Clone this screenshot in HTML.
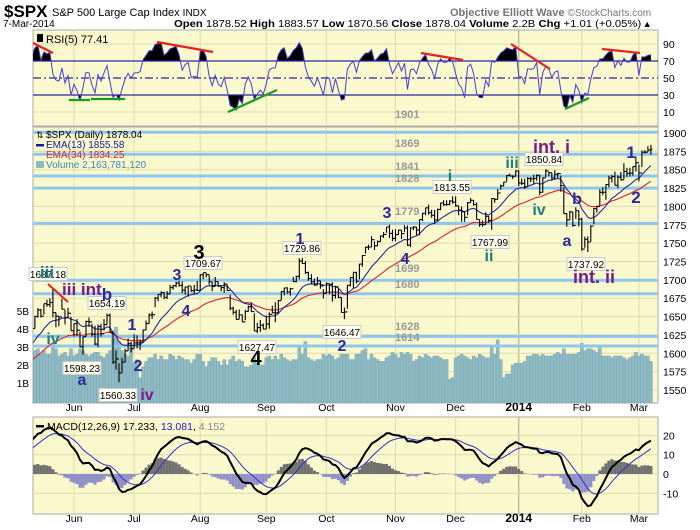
<!DOCTYPE html>
<html><head><meta charset="utf-8"><style>
html,body{margin:0;padding:0;background:#fff;}
svg{display:block;font-family:"Liberation Sans",sans-serif;}
</style></head><body>
<svg id="chart" width="700" height="530" viewBox="0 0 700 530">
<g id="hdr">
<text x="4" y="17" font-size="17" font-weight="bold" fill="#000">$SPX</text>
<text x="52" y="16" font-size="11" fill="#000">S&amp;P 500 Large Cap Index <tspan font-size="10">INDX</tspan></text>
<text x="450" y="16" font-size="11" font-weight="bold" fill="#777">Objective Elliott Wave <tspan font-weight="normal" font-size="10">©StockCharts.com</tspan></text>
<text x="3" y="27" font-size="10" fill="#000">7-Mar-2014</text>
<text x="174" y="27" font-size="10" fill="#000" textLength="476" lengthAdjust="spacingAndGlyphs"><tspan font-weight="bold">Open</tspan> 1878.52 <tspan font-weight="bold">High</tspan> 1883.57 <tspan font-weight="bold">Low</tspan> 1870.56 <tspan font-weight="bold">Close</tspan> 1878.04 <tspan font-weight="bold">Volume</tspan> 2.2B <tspan font-weight="bold">Chg</tspan> +1.01 (+0.05%) ▴</text>
</g>
<g id="layer"></g>
</svg>
<script>
const warmClose=[1560.7,1552.1,1548.3,1558.7,1545.8,1556.9,1551.7,1563.8,1562.9,1569.2,1562.2,1570.3,1553.7,1560.0,1553.3,1563.1,1568.6,1587.7,1593.4,1588.9,1552.4,1574.6,1552.0,1541.6,1555.3,1562.5,1578.8,1578.8,1585.2,1582.2,1593.6,1597.6,1582.7,1597.6,1614.4,1617.5,1626.0,1632.7,1626.7,1633.7];
const closes=[1633.8,1650.3,1658.8,1650.5,1667.5,1666.3,1669.2,1655.4,1650.5,1649.6,1660.1,1648.4,1654.4,1630.7,
1640.4,1631.4,1608.9,1622.6,1643.4,1642.8,1626.1,1612.5,1636.4,1626.7,1639.0,1651.8,1628.9,1588.2,1592.4,1573.1,1588.0,1603.3,1613.2,1606.3,
1614.1,1614.1,1615.4,1631.9,1640.5,1652.3,1652.6,1675.0,1680.2,1682.5,1676.3,1680.9,1689.4,1692.1,1695.5,1692.4,1685.9,1690.3,1691.7,1685.3,1686.0,1685.7,
1706.9,1709.7,1707.1,1697.4,1690.9,1697.5,1691.4,1689.5,1694.2,1685.4,1661.3,1655.8,1646.1,1652.4,1642.8,1657.0,1663.5,1656.8,1630.5,1635.0,1638.2,1633.0,
1639.8,1653.1,1655.1,1655.2,1671.7,1684.0,1689.1,1683.4,1688.0,1697.6,1704.8,1725.5,1722.3,1709.9,1701.8,1697.4,1692.8,1698.7,1691.8,1681.6,
1695.0,1693.9,1678.7,1690.5,1676.1,1655.5,1656.4,1692.6,1703.2,1710.1,1698.1,1721.5,1733.2,1744.5,1744.7,1754.7,1746.4,1752.1,1759.8,1762.1,1772.0,1763.3,1756.5,
1761.6,1767.9,1763.0,1770.5,1747.2,1770.6,1771.9,1767.7,1782.0,1790.6,1798.2,1791.5,1787.9,1781.4,1795.9,1804.8,1802.5,1802.8,1807.2,1805.8,
1800.9,1795.2,1792.8,1785.0,1805.1,1808.4,1802.6,1782.2,1775.5,1775.3,1786.5,1781.0,1810.6,1809.6,1818.3,1828.0,1833.3,1842.0,1841.4,1841.1,1848.4,
1832.0,1831.4,1826.8,1837.9,1837.5,1838.1,1842.4,1819.2,1838.9,1848.4,1845.9,1838.7,1843.8,1844.9,1828.5,1790.3,1781.6,1792.5,1774.2,1794.2,1782.6,
1741.9,1755.2,1751.6,1773.4,1797.0,1799.8,1819.3,1819.3,1829.8,1838.6,1840.8,1828.8,1839.8,1836.3,1847.6,1845.1,1845.2,1854.3,1859.5,
1845.7,1873.9,1873.8,1877.0,1878.0];
const highs=[1636.0,1651.1,1661.5,1660.5,1667.5,1672.8,1674.9,1687.2,1655.4,1649.8,1674.2,1659.0,1661.9,1649.4,
1640.4,1646.5,1629.3,1622.6,1644.4,1648.7,1640.1,1637.7,1639.3,1640.4,1646.5,1654.2,1654.2,1628.9,1604.0,1586.5,1593.8,1606.2,1620.1,1615.9,
1626.0,1624.3,1618.9,1632.1,1644.7,1654.2,1656.9,1676.6,1680.2,1684.5,1683.7,1684.8,1693.1,1693.0,1697.6,1698.8,1697.8,1690.9,1691.9,1690.9,1693.2,1698.4,
1707.9,1709.7,1709.2,1706.9,1697.4,1703.9,1697.5,1690.9,1696.8,1693.8,1679.6,1663.6,1659.1,1659.6,1652.5,1659.4,1664.9,1669.5,1654.4,1641.2,1645.3,1640.6,
1651.4,1655.7,1664.7,1669.5,1672.4,1684.1,1689.1,1689.9,1689.0,1704.0,1705.5,1729.4,1729.9,1725.5,1711.2,1707.6,1701.7,1703.9,1698.7,1687.3,
1696.6,1693.9,1696.6,1691.9,1687.7,1676.1,1662.4,1692.6,1703.4,1711.0,1711.0,1721.8,1733.5,1745.3,1747.8,1759.3,1752.7,1753.7,1759.8,1765.0,1772.0,1775.2,1768.5,
1768.8,1768.0,1767.7,1774.5,1774.0,1771.8,1773.4,1772.3,1782.0,1791.5,1798.2,1802.3,1795.5,1795.3,1797.0,1804.8,1808.4,1808.4,1808.4,1813.6,
1813.5,1800.9,1799.8,1792.9,1806.0,1811.5,1808.4,1805.4,1782.2,1780.9,1792.2,1786.8,1811.4,1810.9,1823.8,1829.8,1833.3,1842.8,1844.9,1842.5,1849.4,
1849.4,1838.0,1837.6,1840.1,1840.0,1843.2,1843.8,1843.5,1839.3,1850.8,1847.0,1846.2,1849.3,1845.9,1842.0,1826.7,1790.9,1793.9,1792.5,1798.8,1793.9,
1784.8,1758.7,1759.4,1774.1,1798.0,1801.0,1823.5,1826.2,1830.1,1841.7,1842.9,1847.5,1842.1,1846.9,1858.7,1852.7,1852.6,1854.5,1867.9,
1857.0,1876.2,1876.5,1881.9,1883.6];
const lows=[1623.7,1633.8,1648.6,1648.6,1652.5,1663.3,1662.7,1648.9,1635.5,1636.6,1660.1,1639.4,1648.6,1630.7,
1622.7,1623.6,1608.1,1598.2,1622.7,1636.0,1622.7,1610.9,1608.1,1622.7,1630.9,1639.0,1628.9,1585.4,1577.7,1560.3,1573.1,1588.0,1603.3,1601.1,
1606.8,1606.7,1604.6,1614.7,1631.9,1640.5,1646.7,1662.6,1670.9,1676.3,1673.7,1674.0,1680.9,1686.8,1690.0,1690.6,1681.9,1679.9,1676.9,1683.6,1680.7,1684.8,
1685.7,1700.7,1703.3,1693.3,1684.6,1690.9,1690.3,1684.5,1682.2,1685.2,1658.6,1652.6,1646.1,1646.5,1642.8,1645.1,1656.9,1656.8,1630.5,1627.5,1629.1,1632.5,
1633.4,1633.4,1655.1,1642.2,1655.2,1672.4,1678.7,1681.0,1678.6,1697.6,1696.5,1700.7,1721.8,1708.0,1698.8,1694.6,1691.9,1693.1,1687.8,1674.9,
1681.6,1680.5,1670.4,1674.6,1675.1,1655.5,1646.5,1660.9,1691.1,1688.7,1695.5,1700.9,1717.8,1735.8,1740.6,1744.6,1740.6,1745.9,1752.2,1757.2,1764.1,1757.2,1752.7,
1752.7,1761.6,1755.6,1765.0,1746.2,1744.9,1767.8,1760.6,1760.6,1780.2,1787.9,1788.9,1784.7,1777.2,1780.9,1794.7,1800.6,1800.9,1801.5,1803.7,
1799.6,1787.9,1779.1,1779.1,1788.0,1805.1,1800.9,1782.2,1772.3,1772.3,1775.3,1777.6,1768.0,1804.9,1809.6,1822.6,1827.8,1834.4,1841.3,1837.4,1841.0,
1827.7,1829.1,1823.7,1828.7,1833.0,1830.8,1835.0,1815.5,1818.9,1840.0,1841.0,1835.2,1837.0,1839.0,1820.1,1790.3,1772.3,1781.5,1772.3,1783.0,1772.7,
1739.7,1743.8,1737.9,1752.2,1776.0,1791.8,1800.8,1815.2,1809.2,1825.9,1832.4,1828.6,1824.9,1835.2,1836.8,1840.2,1840.7,1841.9,1847.5,
1834.4,1853.8,1871.9,1874.0,1870.6];
const volumes=[2.9,2.8,2.9,2.6,2.8,2.6,2.6,3.2,2.9,2.5,2.6,2.7,2.5,2.9,
2.5,2.6,2.9,2.8,2.6,2.5,2.6,2.7,2.7,2.5,2.4,2.6,2.8,3.9,4.1,3.3,2.8,2.6,2.5,3.0,
2.1,2.3,1.3,1.9,2.2,2.4,2.4,2.6,2.3,2.5,2.3,2.3,2.6,2.5,2.3,2.5,2.4,2.3,2.3,2.1,2.3,2.6,
2.6,2.2,1.9,2.2,2.4,2.4,2.2,2.0,2.3,2.0,2.3,2.5,2.2,2.3,2.2,1.9,1.9,2.0,2.4,2.1,2.0,2.0,
2.4,2.5,2.3,2.5,2.3,2.6,2.4,2.3,2.2,2.3,2.3,3.1,2.6,3.3,2.4,2.3,2.2,2.3,2.3,2.6,
2.5,2.6,2.5,2.3,2.4,2.6,2.6,2.6,2.3,2.3,2.6,2.6,2.8,2.9,2.3,2.6,2.4,2.3,2.2,2.2,2.4,2.5,2.7,
2.6,2.4,2.7,2.6,2.7,2.6,2.2,2.3,2.5,2.4,2.6,2.5,2.4,2.5,2.5,2.4,2.3,2.3,1.2,1.3,
2.4,2.5,2.6,2.5,2.4,2.3,2.5,2.4,2.6,2.5,2.4,2.4,3.0,2.6,3.4,2.3,1.3,1.5,1.5,2.0,2.1,
2.1,2.1,2.2,2.5,2.5,2.6,2.6,2.5,2.6,2.5,2.5,2.5,2.6,2.7,2.6,2.9,2.6,2.6,2.6,2.6,2.7,
3.2,2.8,2.9,2.9,2.8,2.7,3.0,2.5,2.5,2.5,2.4,2.5,2.5,2.5,2.4,2.3,2.4,2.5,2.7,
2.5,2.6,2.5,2.5,2.2];
const monthLabels=['Jun','Jul','Aug','Sep','Oct','Nov','Dec','2014','Feb','Mar'];
const monthIdx=[14,34,56,78,98,121,141,162,183,202];
const priceTicks=[1900,1875,1850,1825,1800,1775,1750,1725,1700,1675,1650,1625,1600,1575,1550];
const volTicks=[5,4,3,2,1];
const rsiTicks=[90,70,50,30,10];
const macdTicks=[20,10,0,-10];
const levelValues=[1901,1871,1841.5,1825,1777,1699.5,1681,1623,1610];
const levelLabels=['1901','1869','1841','1828','1779','1699','1680','1628','1614'];

const NS='http://www.w3.org/2000/svg';
const layer=document.getElementById('layer');
function mk(tag,attrs,parent){const e=document.createElementNS(NS,tag);for(const k in attrs)e.setAttribute(k,attrs[k]);(parent||layer).appendChild(e);return e;}
const X0=33,X1=658;
const xi=i=>31.9+i*3.005;
const py=p=>133+(1900-p)*0.7343;
const vy=v=>401-18*v;
const ry=r=>120.5-r*0.85;
const my=m=>474-m*1.93;
const RSI_T=30,RSI_B=126,PR_T=127,PR_B=403,MA_T=417,MA_B=514;

const all=warmClose.concat(closes);const W=warmClose.length;
function ema(arr,n){const k=2/(n+1);const out=[];let e=arr[0];for(let i=0;i<arr.length;i++){e=i?arr[i]*k+e*(1-k):arr[0];out.push(e);}return out;}
const e13=ema(all,13).slice(W),e34=ema(all,34).slice(W);
const e12=ema(all,12),e26=ema(all,26);const macdAll=e12.map((v,i)=>v-e26[i]);const sigAll=ema(macdAll,9);
const macd=macdAll.slice(W),sig=sigAll.slice(W);
let ag=0,al=0;const rsiAll=[];for(let i=1;i<all.length;i++){const d=all[i]-all[i-1];const g=Math.max(d,0),l=Math.max(-d,0);if(i<=5){ag+=g/5;al+=l/5;}else{ag=(ag*4+g)/5;al=(al*4+l)/5;}rsiAll.push(al===0?100:100-100/(1+ag/al));}
const rsi=rsiAll.slice(W-1);

const BG='#faf8cd',GR='#dedcae';
for(const [t,b,nm] of [[RSI_T,RSI_B,'rsi-panel'],[PR_T,PR_B,'price-panel'],[MA_T,MA_B,'macd-panel']]){
 const r=mk('rect',{x:X0,y:t,width:X1-X0,height:b-t,fill:BG,stroke:'#aaa','stroke-width':1});
 
}
const defs=mk('defs',{});
[['cr',RSI_T,RSI_B],['cp',PR_T,PR_B],['cm',MA_T,MA_B]].forEach(([id,t,b])=>{const c=mk('clipPath',{id},defs);mk('rect',{x:X0,y:t,width:X1-X0,height:b-t},c);});
monthIdx.forEach((mi,k)=>{const x=xi(mi);
 for(const [t,b] of [[RSI_T,RSI_B],[PR_T,PR_B],[MA_T,MA_B]]){const l=mk('line',{x1:x,x2:x,y1:t,y2:b,stroke:k===7?'#b8b890':GR,'stroke-width':k===7?1.3:1});}
 for(const yy of [411,522]){const t=mk('text',{x:x,y:yy,'font-size':k===7?12:10.5,'font-weight':k===7?'bold':'normal','text-anchor':'middle',fill:'#000'});t.textContent=monthLabels[k];}
});
priceTicks.forEach(p=>{const y=py(p);const l=mk('line',{x1:X0,x2:X1,y1:y,y2:y,stroke:GR});
 const t=mk('text',{x:663,y:y+4,'font-size':10.5,fill:'#000'});t.textContent=p;});
volTicks.forEach(v=>{const t=mk('text',{x:29,y:vy(v)+4,'font-size':10,fill:'#000','text-anchor':'end'});t.textContent=v+'B';});
rsiTicks.forEach(r=>{const y=ry(r);
 if(r===10||r===90){const l=mk('line',{x1:X0,x2:X1,y1:y,y2:y,stroke:GR});}
 const t=mk('text',{x:663,y:y+4,'font-size':10.5,fill:'#000'});t.textContent=r;});
macdTicks.forEach(m=>{const y=my(m);const l=mk('line',{x1:X0,x2:X1,y1:y,y2:y,stroke:GR});
 const t=mk('text',{x:663,y:y+4,'font-size':10.5,fill:'#000'});t.textContent=m;});

const gR=mk('g',{'clip-path':'url(#cr)'});
const rpts=rsi.map((r,i)=>xi(i).toFixed(1)+','+ry(r).toFixed(1));
const cA=mk('clipPath',{id:'above70'},defs);mk('rect',{x:X0,y:RSI_T,width:X1-X0,height:ry(70)-RSI_T},cA);
const cB=mk('clipPath',{id:'below30'},defs);mk('rect',{x:X0,y:ry(30),width:X1-X0,height:RSI_B-ry(30)},cB);
const fa=mk('polygon',{points:rpts.join(' ')+' '+xi(rsi.length-1)+','+ry(70)+' '+xi(0)+','+ry(70),fill:'#000','clip-path':'url(#above70)'},gR);
const fb=mk('polygon',{points:rpts.join(' ')+' '+xi(rsi.length-1)+','+ry(30)+' '+xi(0)+','+ry(30),fill:'#000','clip-path':'url(#below30)'},gR);
for(const [v,d] of [[70,''],[30,''],[50,'8,3,2,3']]){const l=mk('line',{x1:X0,x2:X1,y1:ry(v),y2:ry(v),stroke:'#2a2a9a','stroke-width':1.2,'stroke-dasharray':d},gR);}
const rl=mk('polyline',{points:rpts.join(' '),fill:'none',stroke:'#4a3ed8','stroke-width':1},gR);
const trend=[['#e82020',33,43,53,53],['#e82020',157,42,213,52],['#e82020',421,53,463,60],['#e82020',511,44,550,69],['#e82020',602,49,640,53],['#1a9a1a',69,100,90,100],['#1a9a1a',91,99,125,99],['#1a9a1a',228,112,277,90],['#1a9a1a',565,109,589,98]];
trend.forEach(([c,a,b,d,e])=>{const l=mk('line',{x1:a,y1:b,x2:d,y2:e,stroke:c,'stroke-width':2.2});});
mk('rect',{x:37,y:34,width:6,height:8,fill:'#000'});
const rlg=mk('text',{x:46,y:43,'font-size':11,fill:'#000'});rlg.textContent='RSI(5) 77.41';

const gP=mk('g',{'clip-path':'url(#cp)'});
volumes.forEach((v,i)=>{const b=mk('rect',{x:xi(i)-1.5,y:vy(v),width:3,height:PR_B-vy(v),fill:'#8fbac3',stroke:'#7aa8b3','stroke-width':0.5},gP);});
levelValues.forEach((lv,k)=>{const y=py(lv);const l=mk('line',{x1:X0,x2:X1,y1:y,y2:y,stroke:'#8ec6ee','stroke-width':3},gP);});
const e34l=mk('polyline',{points:e34.map((v,i)=>xi(i).toFixed(1)+','+py(v).toFixed(1)).join(' '),fill:'none',stroke:'#e02030','stroke-width':1.1},gP);
const e13l=mk('polyline',{points:e13.map((v,i)=>xi(i).toFixed(1)+','+py(v).toFixed(1)).join(' '),fill:'none',stroke:'#2828a0','stroke-width':1.1},gP);
closes.forEach((c,i)=>{const x=xi(i);const o=i?closes[i-1]:c;
 const b=mk('path',{d:`M${x.toFixed(1)},${py(highs[i]).toFixed(1)}V${py(lows[i]).toFixed(1)}M${(x-1.5).toFixed(1)},${py(o).toFixed(1)}H${x.toFixed(1)}M${x.toFixed(1)},${py(c).toFixed(1)}H${(x+1.5).toFixed(1)}`,stroke:'#000','stroke-width':1.1,fill:'none'},gP);
 });
const lvlY=[118,147,170,182,215,272,288,330,341];
levelLabels.forEach((s,k)=>{const t=mk('text',{x:395,y:lvlY[k],'font-size':11,'font-weight':'bold',fill:'#999'});t.textContent=s;});
[['$SPX (Daily) 1878.04','#000',138],['EMA(13) 1855.58','#1a1a90',148],['EMA(34) 1834.25','#e02030',158],['Volume 2,163,781,120','#3a8ab0',168]].forEach(([s,c,y],k)=>{
 const t=mk('text',{x:46,y:y,'font-size':10,fill:c});t.textContent=s;
 if(k===0)mk('text',{x:36,y:y,'font-size':9,fill:'#000'}).textContent='⇅';
 if(k===1)mk('rect',{x:36,y:y-4,width:8,height:2.5,fill:'#1a1a90'});
 if(k===3)mk('rect',{x:36,y:y-7,width:8,height:7,fill:'#8fbac3'});
});
const boxes=[['1687.18',48,274],['1654.19',107,303],['1598.23',82,368],['1560.33',118,395],['1709.67',203,263],['1729.86',302,248],['1627.47',257,347],['1646.47',342,332],['1813.55',452,187],['1767.99',490,242],['1850.84',544,159],['1737.92',586,264]];
boxes.forEach(([s,x,y])=>{const r=mk('rect',{x:x-19,y:y-6.5,width:38,height:13,fill:'#fdfdf0',stroke:'#ccc'});
 const t=mk('text',{x:x,y:y+4,'font-size':10,'text-anchor':'middle',fill:'#000'});t.textContent=s;});
const waves=[['iii',47,278,'#1f7a7a',17],['iii int',62,295,'#7a1a8a',17],['b',107,300,'#2a2a9a',17],['iv',53,344,'#1f7a7a',16],['a',82,385,'#2a2a9a',16],['1',132,330,'#2a2a9a',16],['2',138,371,'#2a2a9a',16],['iv',147,400,'#7a1a8a',16],
['3',177,280,'#2a2a9a',16],['4',186,316,'#2a2a9a',16],['3',199,259,'#000',20],['1',300,244,'#2a2a9a',16],['4',256,365,'#000',20],['2',342,351,'#2a2a9a',16],
['3',387,218,'#2a2a9a',16],['4',405,264,'#2a2a9a',16],['i',450,181,'#1f7a7a',16],['ii',489,261,'#1f7a7a',16],['iii',512,168,'#1f7a7a',16],['int. i',533,153,'#7a1a8a',18],['iv',539,215,'#1f7a7a',16],['a',567,246,'#2a2a9a',16],['b',577,204,'#2a2a9a',16],['int. ii',573,283,'#7a1a8a',18],['1',631,158,'#2a2a9a',17],['2',636,203,'#2a2a9a',17]];
waves.forEach(([s,x,y,c,f])=>{const t=mk('text',{x:x,y:y,'font-size':f,'font-weight':'bold',fill:c,'text-anchor':(s==='int. i'||s==='int. ii'||s==='iii int')?'start':'middle'});t.textContent=s;});
const rl2=mk('line',{x1:48,y1:284,x2:68,y2:302,stroke:'#e82020','stroke-width':2});

const gM=mk('g',{'clip-path':'url(#cm)'});
macd.forEach((m,i)=>{const h=m-sig[i];const y0=my(0),y1=my(h);const b=mk('rect',{x:xi(i)-1.5,y:Math.min(y0,y1),width:3,height:Math.abs(y1-y0),fill:h>=0?'#707070':'#9090c8'},gM);});
const sl=mk('polyline',{points:sig.map((v,i)=>xi(i).toFixed(1)+','+my(v).toFixed(1)).join(' '),fill:'none',stroke:'#3030d0','stroke-width':1},gM);
const ml=mk('polyline',{points:macd.map((v,i)=>xi(i).toFixed(1)+','+my(v).toFixed(1)).join(' '),fill:'none',stroke:'#000','stroke-width':2},gM);
mk('rect',{x:36,y:425,width:8,height:2.5,fill:'#000'});
const mlg=mk('text',{x:47,y:430,'font-size':10.5,fill:'#000'});mlg.innerHTML='MACD(12,26,9) 17.233, <tspan fill="#2020c0">13.081</tspan>, <tspan fill="#888">4.152</tspan>';
</script>
</body></html>
